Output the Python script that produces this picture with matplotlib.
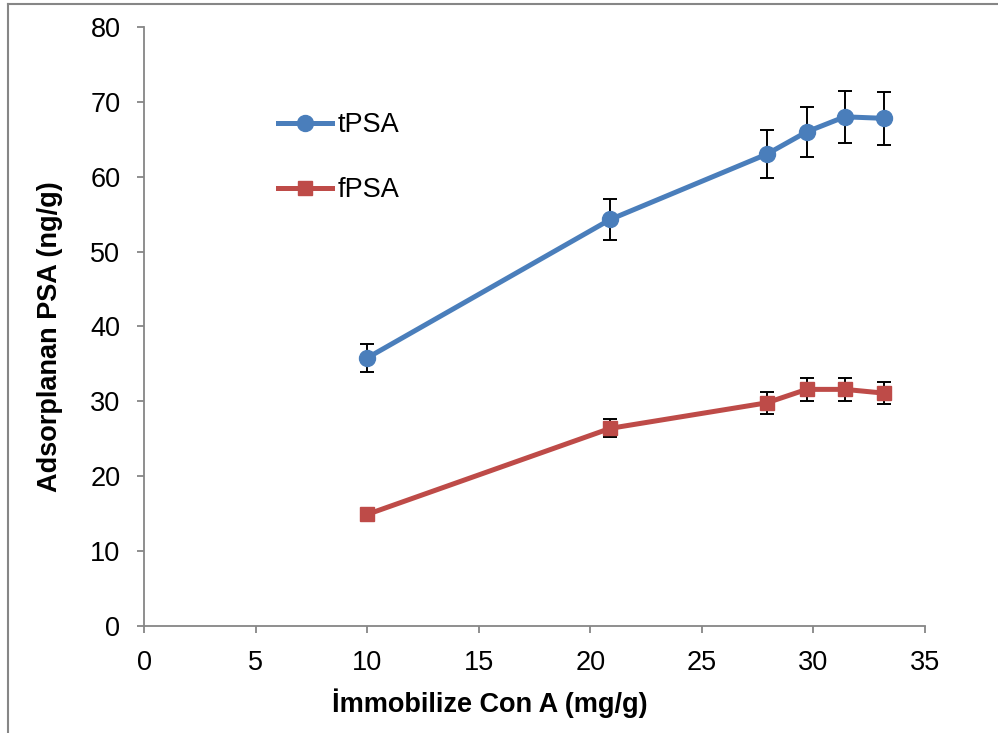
import matplotlib.pyplot as plt
from matplotlib.lines import Line2D

plt.rcParams['font.family'] = ['Liberation Sans', 'DejaVu Sans']

# data
con_a = [10.0, 20.9, 27.9, 29.7, 31.4, 33.15]
tpsa = [35.8, 54.3, 63.0, 66.0, 68.0, 67.8]
tpsa_err = [1.9, 2.7, 3.2, 3.3, 3.5, 3.5]
fpsa = [14.9, 26.4, 29.8, 31.6, 31.6, 31.1]
fpsa_err = [0.0, 1.2, 1.5, 1.5, 1.5, 1.5]

blue = '#4A7EBB'
red = '#BE4B48'
grey = '#868686'

fig = plt.figure(figsize=(9.98, 7.33), dpi=100)
ax = fig.add_axes([0.1443, 0.146, 0.7826, 0.8172])

ax.errorbar(con_a, tpsa, yerr=tpsa_err, color=blue, lw=3.6, marker='o', ms=11.5,
            ecolor='black', elinewidth=1.4, capsize=5, capthick=1.4, label='tPSA', zorder=3)
ax.errorbar(con_a, fpsa, yerr=fpsa_err, color=red, lw=3.6, marker='s', ms=10.5,
            ecolor='black', elinewidth=1.4, capsize=5, capthick=1.4, label='fPSA', zorder=3)

ax.set_xlim(0, 35)
ax.set_ylim(0, 80)
ax.set_xticks(range(0, 36, 5))
ax.set_yticks(range(0, 81, 10))

for s in ['top', 'right']:
    ax.spines[s].set_visible(False)
for s in ['left', 'bottom']:
    ax.spines[s].set_color(grey)
    ax.spines[s].set_linewidth(1.3)
ax.tick_params(direction='out', length=5, width=1.3, color=grey, labelsize=19.5, pad=12)

ax.set_xlabel('İmmobilize Con A (mg/g)', fontsize=19.5, fontweight='bold')
ax.set_ylabel('Adsorplanan PSA (ng/g)', fontsize=19.5, fontweight='bold')
# excel put the titles slightly off-centre
ax.xaxis.set_label_coords(0.443, -0.105)
ax.yaxis.set_label_coords(-0.104, 0.4825)

handles, labels = ax.get_legend_handles_labels()
handles = [h[0] for h in handles]
ax.legend(handles, labels, loc='upper left', bbox_to_anchor=(278 / 998, 1 - 112 / 733),
          bbox_transform=fig.transFigure, frameon=False, fontsize=19.5, handlelength=2.0,
          handletextpad=0.2, labelspacing=1.45, borderpad=0, borderaxespad=0)

# outer frame
fig.add_artist(Line2D([8 / 998, 8 / 998], [0, 1 - 4 / 733], color=grey, lw=1.5))
fig.add_artist(Line2D([8 / 998, 1], [1 - 4 / 733, 1 - 4 / 733], color=grey, lw=1.5))

plt.savefig('out.png', dpi=100)
